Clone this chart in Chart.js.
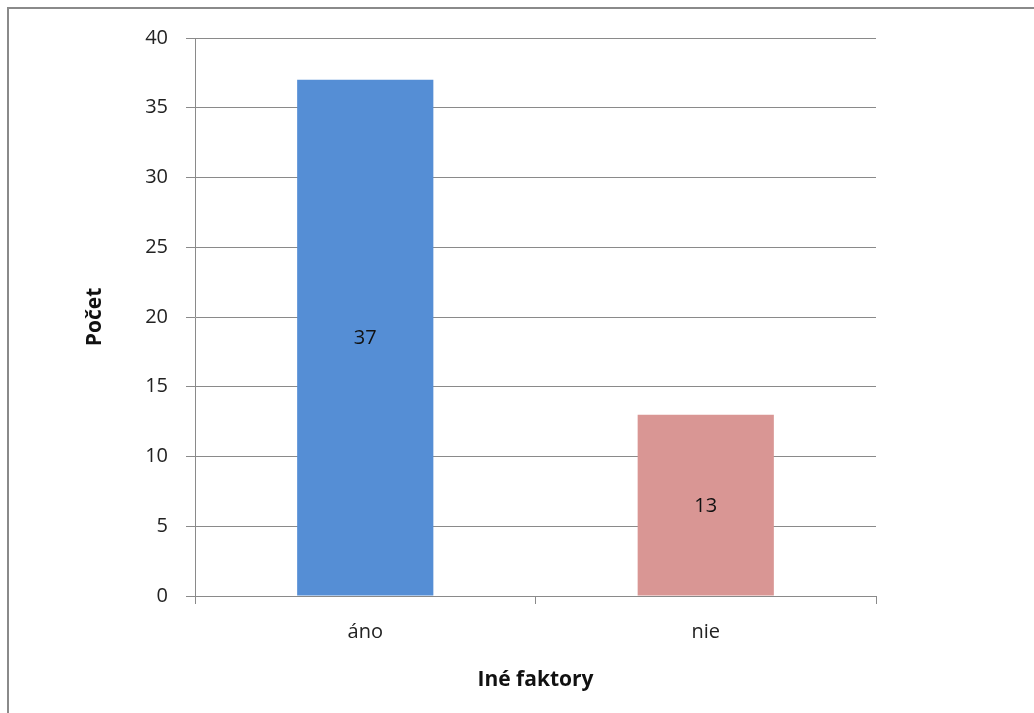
<!DOCTYPE html>
<html>
<head>
<meta charset="utf-8">
<script src="https://cdn.jsdelivr.net/npm/chart.js@4"></script>
<style>
  body { margin: 0; background: #fff; }
  #wrap { position: relative; width: 1034px; height: 713px; overflow: hidden; }
  #frame { position: absolute; left: 7px; top: 7px; right: -10px; bottom: -10px;
           border-top: 2px solid #8a8a8a; border-left: 2px solid #8a8a8a; }
  canvas { position: absolute; left: 0; top: 0; }
</style>
</head>
<body>
<div id="wrap">
  <div id="frame"></div>
  <canvas id="myBarChart" width="1034" height="713"></canvas>
</div>
<script>
  const categories = ["áno", "nie"];
  const counts = [37, 13];
  const barColors = ["#558ed5", "#d99694"];
  const yTicks = [0, 5, 10, 15, 20, 25, 30, 35, 40];

  const fontFamily = "'Open Sans', sans-serif";

  // value label in the middle of each bar
  const barLabelPlugin = {
    id: "barlabel",
    afterDatasetsDraw(chart) {
      const { ctx } = chart;
      const meta = chart.getDatasetMeta(0);
      ctx.save();
      ctx.font = `20px ${fontFamily}`;
      ctx.fillStyle = "#111";
      ctx.textAlign = "center";
      ctx.textBaseline = "middle";
      meta.data.forEach((bar, i) => {
        const midY = (bar.y + bar.base) / 2;
        ctx.fillText(String(counts[i]), bar.x, midY + 1);
      });
      ctx.restore();
    },
  };

  const barCtx = document.getElementById("myBarChart").getContext("2d");
  const myBarChart = new Chart(barCtx, {
    type: "bar",
    data: {
      labels: categories,
      datasets: [
        {
          data: counts,
          backgroundColor: barColors,
          borderWidth: 0,
          barPercentage: 0.4,
          categoryPercentage: 1,
        },
      ],
    },
    options: {
      responsive: false,
      animation: false,
      layout: {
        padding: { left: 78, right: 158, top: 38, bottom: 16 },
      },
      scales: {
        x: {
          offset: true,
          grid: {
            offset: true,
            drawOnChartArea: false,
            color: "#8a8a8a",
            tickLength: 8,
          },
          border: { color: "#8a8a8a" },
          ticks: {
            color: "#222",
            font: { family: fontFamily, size: 20 },
            padding: 16,
          },
          title: {
            display: true,
            text: "Iné faktory",
            color: "#111",
            font: { family: fontFamily, size: 21, weight: "bold" },
          },
          afterFit(scale) {
            scale.height = 101;
          },
        },
        y: {
          min: 0,
          max: 40,
          afterBuildTicks(scale) {
            scale.ticks = yTicks.map((v) => ({ value: v }));
          },
          grid: {
            color: "#8a8a8a",
            tickLength: 9,
          },
          border: { color: "#8a8a8a" },
          ticks: {
            color: "#222",
            font: { family: fontFamily, size: 20 },
            padding: 18,
          },
          title: {
            display: true,
            text: "Počet",
            color: "#111",
            font: { family: fontFamily, size: 21, weight: "bold" },
          },
          afterFit(scale) {
            scale.width = 117;
          },
        },
      },
      plugins: {
        legend: { display: false },
        tooltip: { enabled: false },
      },
    },
    plugins: [barLabelPlugin],
  });
</script>
</body>
</html>
